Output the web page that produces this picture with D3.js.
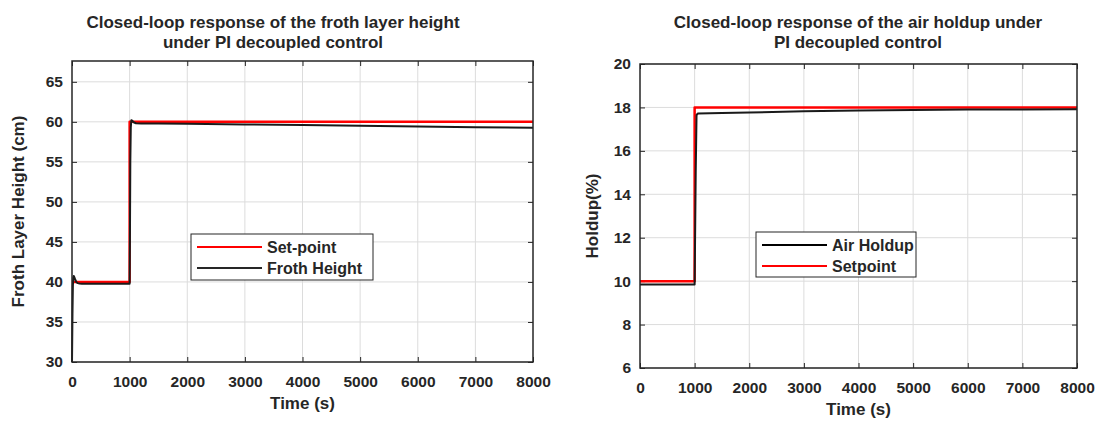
<!DOCTYPE html>
<html>
<head>
<meta charset="utf-8">
<script src="https://cdn.jsdelivr.net/npm/d3@7"></script>
<style>
  body { margin: 0; background: #fff; }
  svg text { font-family: "Liberation Sans", Arial, Helvetica, sans-serif; font-weight: bold; fill: #262626; }
  .grid line { stroke: #dcdcdc; stroke-width: 1; }
</style>
</head>
<body>
<svg id="svg1" width="1100" height="421"></svg>
<script>
// ---- data ----
var xTicks = [0, 1000, 2000, 3000, 4000, 5000, 6000, 7000, 8000];

// left chart: froth layer height
var frothTicks = [30, 35, 40, 45, 50, 55, 60, 65];
var frothSetTime = [0, 1000, 1000, 8000];
var frothSetValue = [40, 40, 60, 60];
var frothTime = [0, 8, 15, 22, 30, 40, 55, 75, 100, 130, 170, 250, 500, 1000, 1005, 1012, 1020, 1030, 1045, 1070, 1110, 1200, 1500, 2000, 3000, 4000, 5000, 6000, 7000, 8000];
var frothValue = [30, 36, 39.5, 40.5, 40.75, 40.6, 40.3, 40.0, 39.85, 39.8, 39.78, 39.78, 39.78, 39.78, 45, 55, 59.3, 60.2, 60.15, 59.95, 59.82, 59.8, 59.78, 59.75, 59.68, 59.6, 59.5, 59.42, 59.33, 59.25];

// right chart: air holdup
var holdupTicks = [6, 8, 10, 12, 14, 16, 18, 20];
var holdupSetTime = [0, 1000, 1000, 8000];
var holdupSetValue = [10, 10, 18, 18];
var holdupTime = [0, 1000, 1020, 1035, 1060, 1500, 2000, 3000, 4000, 5000, 6000, 7000, 8000];
var holdupValue = [9.85, 9.85, 15, 17.65, 17.72, 17.74, 17.77, 17.82, 17.86, 17.88, 17.9, 17.91, 17.92];

var svg = d3.select("#svg1");

function drawPanel(opt) {
  var g = svg.append("g");
  var x = d3.scaleLinear().domain([0, 8000]).range([opt.left, opt.right]);
  var y = d3.scaleLinear().domain(opt.yDomain).range([opt.bottom, opt.top]);

  // grid
  g.append("g").attr("class", "grid")
    .selectAll("line.vx").data(xTicks.slice(1, -1)).enter().append("line")
    .attr("x1", function(d) { return x(d); }).attr("x2", function(d) { return x(d); })
    .attr("y1", opt.top).attr("y2", opt.bottom);
  g.append("g").attr("class", "grid")
    .selectAll("line.hy").data(opt.yTicks).enter().append("line")
    .attr("y1", function(d) { return y(d); }).attr("y2", function(d) { return y(d); })
    .attr("x1", opt.left).attr("x2", opt.right);

  // axes with inward ticks
  var ax = g.append("g").attr("transform", "translate(0," + opt.bottom + ")")
    .call(d3.axisBottom(x).tickValues(xTicks).tickSize(-5).tickFormat(d3.format("d")));
  var ay = g.append("g").attr("transform", "translate(" + opt.left + ",0)")
    .call(d3.axisLeft(y).tickValues(opt.yTicks).tickSize(-5).tickPadding(9).tickFormat(d3.format("d")));
  g.append("g").attr("transform", "translate(0," + opt.top + ")")
    .call(d3.axisTop(x).tickValues(xTicks).tickSize(-5).tickFormat(""));
  g.append("g").attr("transform", "translate(" + opt.right + ",0)")
    .call(d3.axisRight(y).tickValues(opt.yTicks).tickSize(-5).tickFormat(""));
  g.selectAll(".domain").remove();
  g.selectAll(".tick line").attr("stroke", "#262626");
  g.selectAll(".tick text").attr("font-size", 15.5).attr("fill", "#262626");
  ax.selectAll(".tick text").attr("dy", "0.32em").attr("y", 20);

  // lines
  var line = d3.line().x(function(d) { return x(d[0]); }).y(function(d) { return y(d[1]); });
  opt.series.forEach(function(s) {
    g.append("path")
      .datum(d3.zip(s.t, s.v))
      .attr("fill", "none")
      .attr("stroke", s.color)
      .attr("stroke-width", s.w)
      .attr("stroke-linejoin", "round")
      .attr("d", line);
  });

  // frame
  g.append("rect")
    .attr("x", opt.left).attr("y", opt.top)
    .attr("width", opt.right - opt.left).attr("height", opt.bottom - opt.top)
    .attr("fill", "none").attr("stroke", "#262626").attr("stroke-width", 1.5);

  // title
  var cx = (opt.left + opt.right) / 2;
  opt.title.forEach(function(t, i) {
    g.append("text").attr("x", opt.titleX).attr("y", 28 + i * 20)
      .attr("text-anchor", "middle").attr("font-size", 17).attr("fill", "#000")
      .text(t);
  });

  // axis labels
  g.append("text").attr("x", cx).attr("y", opt.bottom + 47)
    .attr("text-anchor", "middle").attr("font-size", 17).text("Time (s)");
  g.append("text")
    .attr("transform", "translate(" + opt.yLabelX + "," + ((opt.top + opt.bottom) / 2) + ") rotate(-90)")
    .attr("text-anchor", "middle").attr("font-size", 17).text(opt.yLabel);

  // legend
  var L = opt.legend;
  g.append("rect").attr("x", L.x).attr("y", L.y).attr("width", L.w).attr("height", L.h)
    .attr("fill", "#fff").attr("stroke", "#262626").attr("stroke-width", 1);
  L.items.forEach(function(it, i) {
    var ly = L.y + 13 + i * 21;
    g.append("line").attr("x1", L.x + 6).attr("x2", L.x + 71)
      .attr("y1", ly).attr("y2", ly).attr("stroke", it.color).attr("stroke-width", 2);
    g.append("text").attr("x", L.x + 76).attr("y", ly + 6)
      .attr("font-size", 16).attr("fill", "#000").text(it.name);
  });
}

drawPanel({
  left: 72, right: 533, top: 61, bottom: 362,
  yDomain: [30, 67.6], yTicks: frothTicks,
  title: ["Closed-loop response of the froth layer height", "under PI decoupled control"], titleX: 273,
  yLabel: "Froth Layer Height (cm)", yLabelX: 24,
  series: [
    { t: frothSetTime, v: frothSetValue, color: "#ff0000", w: 2.5 },
    { t: frothTime, v: frothValue, color: "#1a1a1a", w: 2 }
  ],
  legend: { x: 191, y: 234, w: 182, h: 46,
    items: [{ name: "Set-point", color: "#ff0000" }, { name: "Froth Height", color: "#262626" }] }
});

drawPanel({
  left: 640, right: 1077, top: 64, bottom: 368,
  yDomain: [6, 20], yTicks: holdupTicks,
  title: ["Closed-loop response of the air holdup under", "PI decoupled control"], titleX: 858,
  yLabel: "Holdup(%)", yLabelX: 598,
  series: [
    { t: holdupSetTime, v: holdupSetValue, color: "#ff0000", w: 2.5 },
    { t: holdupTime, v: holdupValue, color: "#1a1a1a", w: 2 }
  ],
  legend: { x: 756, y: 232, w: 160, h: 45,
    items: [{ name: "Air Holdup", color: "#000" }, { name: "Setpoint", color: "#ff0000" }] }
});
</script>
</body>
</html>
